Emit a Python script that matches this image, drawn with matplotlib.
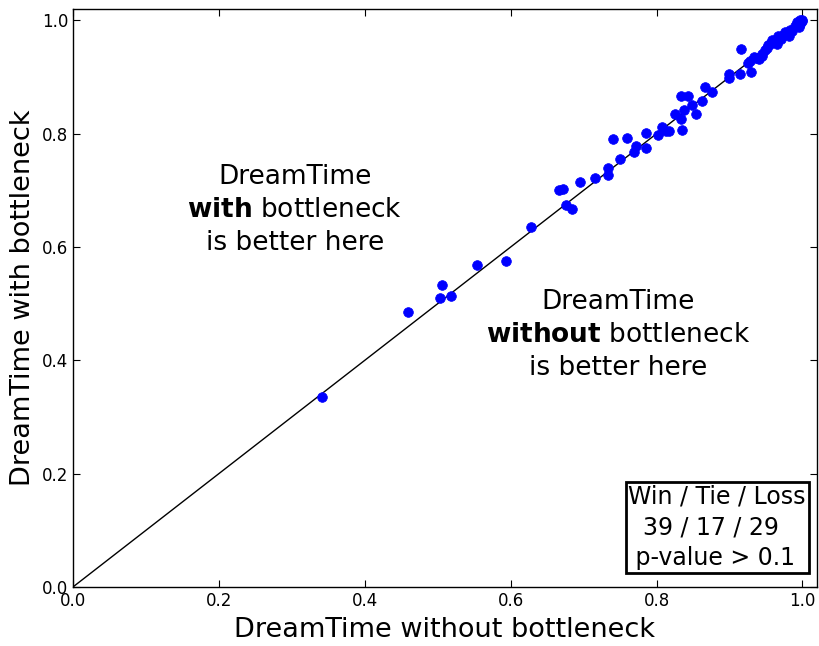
import numpy as np
import matplotlib
matplotlib.use("Agg")
import matplotlib.pyplot as plt

# scores per dataset: without bottleneck (x) vs with bottleneck (y)
without_bn = [0.341, 0.460, 0.503, 0.506, 0.518, 0.554, 0.594, 0.628, 0.666, 0.672,
              0.676, 0.684, 0.695, 0.715, 0.733, 0.733, 0.740, 0.760, 0.750, 0.769,
              0.772, 0.785, 0.786, 0.802, 0.807, 0.813, 0.817, 0.835, 0.825, 0.834,
              0.833, 0.843, 0.837, 0.848, 0.854, 0.862, 0.867, 0.876, 0.899, 0.900,
              0.915, 0.930, 0.926, 0.916, 0.928, 0.933, 0.941, 0.945, 0.949, 0.953,
              0.958, 0.965, 0.967, 0.976, 0.982, 0.983, 0.992, 0.999, 0.995, 0.990,
              0.937, 0.944, 0.951, 0.956, 0.961, 0.970, 0.973, 0.979, 0.986, 0.996,
              1.000, 0.997]
with_bn = [0.335, 0.485, 0.510, 0.533, 0.513, 0.568, 0.575, 0.635, 0.700, 0.702,
           0.675, 0.667, 0.714, 0.721, 0.739, 0.727, 0.791, 0.793, 0.755, 0.768,
           0.778, 0.775, 0.802, 0.797, 0.812, 0.805, 0.804, 0.807, 0.835, 0.826,
           0.866, 0.866, 0.841, 0.851, 0.835, 0.858, 0.882, 0.874, 0.905, 0.899,
           0.906, 0.909, 0.925, 0.949, 0.929, 0.936, 0.931, 0.941, 0.947, 0.956,
           0.965, 0.959, 0.972, 0.979, 0.972, 0.983, 0.997, 0.999, 0.988, 0.990,
           0.934, 0.938, 0.952, 0.958, 0.962, 0.968, 0.975, 0.976, 0.982, 1.000,
           1.000, 0.993]

win, tie, loss = 39, 17, 29
ticks = [0.0, 0.2, 0.4, 0.6, 0.8, 1.0]

fig = plt.figure(figsize=(8.19, 6.46), dpi=100)
ax = fig.add_axes([0.089, 0.0913, 0.9086, 0.8947])

ax.plot([0, 1], [0, 1], color='black', linewidth=1)
ax.plot(without_bn, with_bn, 'o', color='blue', markersize=7,
        markeredgecolor='blue', markeredgewidth=0.5)

ax.set_xlim(0, 1.02)
ax.set_ylim(0, 1.02)
ax.set_xticks(ticks)
ax.set_yticks(ticks)
ax.set_xticklabels(["%.1f" % t for t in ticks])
ax.set_yticklabels(["%.1f" % t for t in ticks])
ax.tick_params(direction='in', top=True, right=True, labelsize=12, length=5)
for sp in ax.spines.values():
    sp.set_linewidth(1)

ax.set_xlabel("DreamTime without bottleneck", fontsize=19.5, labelpad=5)
ax.set_ylabel("DreamTime with bottleneck", fontsize=19.5, labelpad=4)

ax.text(0.304, 0.665, "DreamTime\n$\\bf{with}$ bottleneck\nis better here",
        fontsize=19, ha='center', va='center', multialignment='center', linespacing=1.35)
ax.text(0.747, 0.444, "DreamTime\n$\\bf{without}$ bottleneck\nis better here",
        fontsize=19, ha='center', va='center', multialignment='center', linespacing=1.35)

ax.text(0.985, 0.03,
        "Win / Tie / Loss\n  %d / %d / %d\n p-value > 0.1" % (win, tie, loss),
        transform=ax.transAxes, fontsize=17, ha='right', va='bottom',
        multialignment='left', linespacing=1.35,
        bbox=dict(boxstyle='square,pad=0.12', facecolor='white',
                  edgecolor='black', linewidth=2))

fig.savefig("out.png", dpi=100)
